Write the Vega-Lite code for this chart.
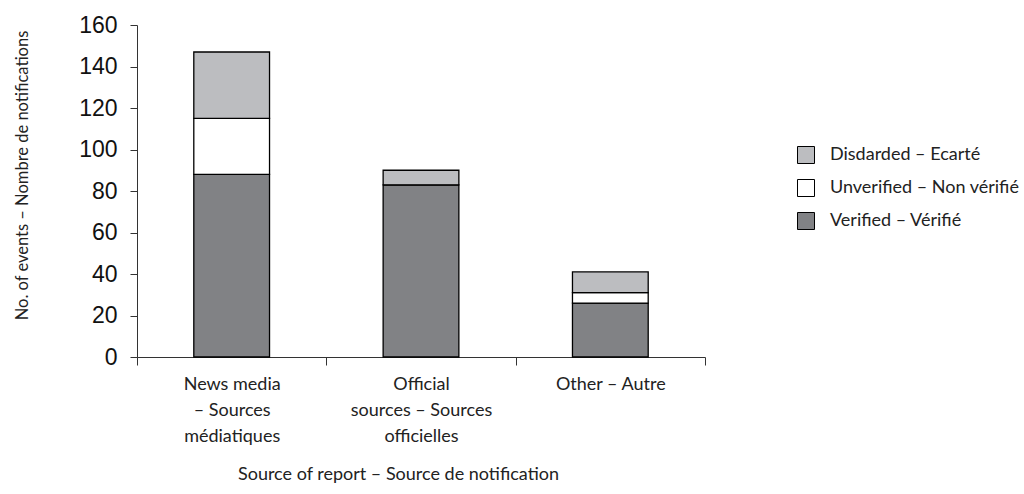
{
  "$schema": "https://vega.github.io/schema/vega-lite/v6.json",
  "autosize": {"type": "none"},
  "padding": {"left": 137, "top": 25, "right": 319, "bottom": 137},
  "width": 568,
  "height": 332,
  "background": "white",
  "data": {
    "values": [
      {"source": "News media – Sources médiatiques", "status": "Verified – Vérifié", "order": 1, "count": 88},
      {"source": "News media – Sources médiatiques", "status": "Unverified – Non vérifié", "order": 2, "count": 27},
      {"source": "News media – Sources médiatiques", "status": "Disdarded – Ecarté", "order": 3, "count": 32},
      {"source": "Official sources – Sources officielles", "status": "Verified – Vérifié", "order": 1, "count": 83},
      {"source": "Official sources – Sources officielles", "status": "Unverified – Non vérifié", "order": 2, "count": 0},
      {"source": "Official sources – Sources officielles", "status": "Disdarded – Ecarté", "order": 3, "count": 7},
      {"source": "Other – Autre", "status": "Verified – Vérifié", "order": 1, "count": 26},
      {"source": "Other – Autre", "status": "Unverified – Non vérifié", "order": 2, "count": 5},
      {"source": "Other – Autre", "status": "Disdarded – Ecarté", "order": 3, "count": 10}
    ]
  },
  "mark": {"type": "bar", "width": {"band": 0.4}, "stroke": "#000000", "strokeWidth": 1.3},
  "encoding": {
    "x": {
      "field": "source",
      "type": "nominal",
      "sort": null,
      "scale": {"paddingInner": 0, "paddingOuter": 0},
      "axis": {
        "title": "Source of report – Source de notification",
        "titleFont": "Lato",
        "titleFontSize": 18,
        "titleFontWeight": "normal",
        "titleColor": "#222222",
        "titlePadding": 20,
        "titleX": 261,
        "titleAnchor": "middle",
        "labelAngle": 0,
        "labelFont": "Lato",
        "labelFontSize": 18,
        "labelColor": "#222222",
        "labelLineHeight": 26,
        "labelPadding": 10,
        "labelExpr": "datum.label == 'News media – Sources médiatiques' ? ['News media', '– Sources', 'médiatiques'] : datum.label == 'Official sources – Sources officielles' ? ['Official', 'sources – Sources', 'officielles'] : datum.label",
        "tickBand": "extent",
        "tickSize": 8,
        "tickColor": "#333333",
        "domainColor": "#333333",
        "grid": false
      }
    },
    "y": {
      "field": "count",
      "type": "quantitative",
      "stack": "zero",
      "scale": {"domain": [0, 160], "nice": false},
      "axis": {
        "title": "No. of events – Nombre de notifications",
        "titleFont": "Lato",
        "titleFontSize": 16.5,
        "titleFontWeight": "normal",
        "titleColor": "#222222",
        "titlePadding": 48,
        "titleY": 150,
        "titleAnchor": "middle",
        "labelFont": "Liberation Sans",
        "labelFontSize": 23,
        "labelColor": "#111111",
        "labelPadding": 13,
        "values": [0, 20, 40, 60, 80, 100, 120, 140, 160],
        "tickSize": 7,
        "tickColor": "#333333",
        "domainColor": "#333333",
        "grid": false
      }
    },
    "color": {
      "field": "status",
      "type": "nominal",
      "sort": ["Disdarded – Ecarté", "Unverified – Non vérifié", "Verified – Vérifié"],
      "scale": {
        "domain": ["Disdarded – Ecarté", "Unverified – Non vérifié", "Verified – Vérifié"],
        "range": ["#bcbdc0", "#ffffff", "#818285"]
      },
      "legend": {
        "title": null,
        "orient": "none",
        "legendX": 660,
        "legendY": 121,
        "symbolType": "square",
        "symbolSize": 289,
        "symbolStrokeColor": "#000000",
        "symbolStrokeWidth": 1,
        "labelFont": "Lato",
        "labelFontSize": 18,
        "labelColor": "#222222",
        "labelOffset": 15,
        "labelLimit": 400,
        "rowPadding": 11
      }
    },
    "order": {"field": "order", "type": "quantitative"}
  },
  "config": {"view": {"stroke": null}}
}
